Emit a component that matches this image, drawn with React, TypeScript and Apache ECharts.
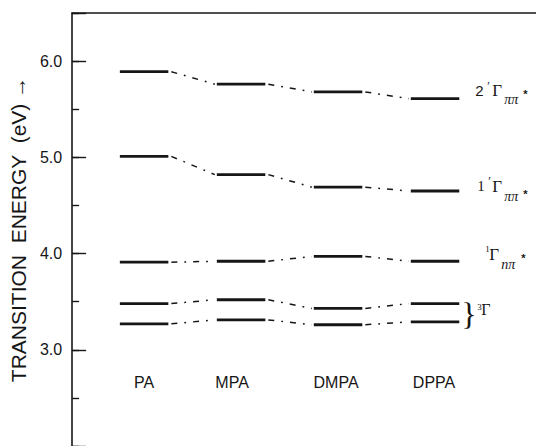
import React, { useEffect, useRef } from 'react';
import * as echarts from 'echarts';

// ---- data ----
const categories = ['PA', 'MPA', 'DMPA', 'DPPA'];
const level2PiPi = [5.89, 5.76, 5.68, 5.61];
const level1PiPi = [5.01, 4.82, 4.69, 4.65];
const level1NPi = [3.91, 3.92, 3.97, 3.92];
const tripletUpper = [3.48, 3.52, 3.43, 3.48];
const tripletLower = [3.27, 3.31, 3.26, 3.29];
const yTickLabels = ['3.0', '4.0', '5.0', '6.0'];

// ---- layout constants ----
const INK = '#161616';
const HW = 0.25; // half width of a level bar (x units)
const LABEL_Y = 2.665; // vertical position of compound names (value units)
const CAT_LABEL_DX = [0, -9, -2, -1];
const SANS = '"Liberation Sans", Arial, sans-serif';
const SERIF = '"Liberation Serif", "DejaVu Serif", serif';

type Piece = { t: string; dx: number; dy: number; font: string };

const label2 = (): Piece[] => [
  { t: '2', dx: 16, dy: -8, font: `15px ${SANS}` },
  { t: '\u2032', dx: 28, dy: -13, font: `12px ${SERIF}` },
  { t: '\u0393', dx: 33, dy: -8, font: `17px ${SERIF}` },
  { t: '\u03c0\u03c0', dx: 45, dy: 1, font: `italic 14px ${SERIF}` },
  { t: '*', dx: 64, dy: -5, font: `bold 11px ${SANS}` },
];
const label1 = (): Piece[] => [
  { t: '1', dx: 18, dy: -5, font: `15px ${SERIF}` },
  { t: '\u2032', dx: 29, dy: -10, font: `12px ${SERIF}` },
  { t: '\u0393', dx: 33, dy: -5, font: `17px ${SERIF}` },
  { t: '\u03c0\u03c0', dx: 45, dy: 5, font: `italic 14px ${SERIF}` },
  { t: '*', dx: 64, dy: 3, font: `bold 11px ${SANS}` },
];
const labelN = (): Piece[] => [
  { t: '1', dx: 26, dy: -12, font: `9px ${SERIF}` },
  { t: '\u0393', dx: 30, dy: -7, font: `17px ${SERIF}` },
  { t: 'n\u03c0', dx: 42, dy: 3, font: `italic 14px ${SERIF}` },
  { t: '*', dx: 62, dy: -3, font: `bold 11px ${SANS}` },
];

const textEl = (x: number, y: number, p: Piece) => ({
  type: 'text',
  x: x + p.dx,
  y: y + p.dy,
  style: {
    text: p.t,
    fill: INK,
    font: p.font,
    align: 'left',
    verticalAlign: 'middle',
    textAlign: 'left',
    textVerticalAlign: 'middle',
  },
});

const levelSeries = (name: string, vals: number[], pieces: Piece[] | null, brace?: boolean) => ({
  type: 'custom',
  name,
  coordinateSystem: 'cartesian2d',
  data: vals.map((v, i) => [i, v]),
  renderItem: (params: any, api: any) => {
    const i = api.value(0);
    const v = api.value(1);
    const p0 = api.coord([i - HW, v]);
    const p1 = api.coord([i + HW, v]);
    const children: any[] = [
      {
        type: 'line',
        shape: { x1: p0[0], y1: p0[1], x2: p1[0], y2: p1[1] },
        style: { stroke: INK, lineWidth: 2.8 },
      },
    ];
    if (i < vals.length - 1) {
      const q = api.coord([i + 1 - HW, vals[i + 1]]);
      children.push({
        type: 'line',
        shape: { x1: p1[0] + 3, y1: p1[1], x2: q[0] - 2, y2: q[1] },
        style: { stroke: INK, lineWidth: 1.5, lineDash: [6, 7, 1.8, 7] },
      });
    }
    if (i === vals.length - 1 && pieces) {
      pieces.forEach((p) => children.push(textEl(p1[0], p1[1], p)));
    }
    if (i === vals.length - 1 && brace) {
      const mid = api.coord([i + HW, (tripletUpper[i] + tripletLower[i]) / 2]);
      children.push(textEl(mid[0], mid[1], { t: '}', dx: 2, dy: 1, font: `32px ${SERIF}` }));
      children.push(textEl(mid[0], mid[1], { t: '3', dx: 18, dy: -6, font: `9px ${SERIF}` }));
      children.push(textEl(mid[0], mid[1], { t: '\u0393', dx: 22, dy: -3, font: `16px ${SERIF}` }));
    }
    return { type: 'group', children };
  },
  z: 5,
});

export default function App() {
  const ref = useRef<HTMLDivElement>(null);
  useEffect(() => {
    document.body.style.margin = '0';
    const chart = echarts.init(ref.current!, null, { renderer: 'svg' });
    const yLabel = (v: number) => {
      const s = v.toFixed(1);
      return Number.isInteger(v) && yTickLabels.includes(s) ? s : '';
    };
    chart.setOption({
      animation: false,
      backgroundColor: '#ffffff',
      grid: { left: 72, right: 0, top: 13, height: 436.5 },
      xAxis: {
        type: 'value',
        position: 'top',
        min: -0.742,
        max: 4.041,
        axisLine: { show: true, onZero: false, lineStyle: { color: INK, width: 1.6 } },
        axisTick: { show: false },
        axisLabel: { show: false },
        splitLine: { show: false },
      },
      yAxis: [
        {
          type: 'value',
          min: 2,
          max: 6.5,
          interval: 1,
          position: 'left',
          name: 'TRANSITION  ENERGY  (eV) \u2192',
          nameLocation: 'middle',
          nameRotate: 90,
          nameGap: 31,
          nameTextStyle: { color: INK, fontSize: 21, fontFamily: SANS },
          axisLine: { show: true, onZero: false, lineStyle: { color: INK, width: 1.6 } },
          axisTick: { show: true, inside: true, length: 14, lineStyle: { color: INK, width: 1.4 } },
          axisLabel: { formatter: yLabel, color: INK, fontSize: 16, fontFamily: SANS, margin: 10 },
          splitLine: { show: false },
        },
        {
          type: 'value',
          min: 2,
          max: 6.5,
          interval: 0.5,
          position: 'left',
          offset: 0,
          axisLine: { show: false, onZero: false },
          axisTick: { show: true, inside: true, length: 7, lineStyle: { color: INK, width: 1.4 } },
          axisLabel: { show: false },
          splitLine: { show: false },
        },
      ],
      series: [
        levelSeries('2ππ*', level2PiPi, label2()),
        levelSeries('1ππ*', level1PiPi, label1()),
        levelSeries('1nπ*', level1NPi, labelN()),
        levelSeries('3Γ upper', tripletUpper, null),
        levelSeries('3Γ lower', tripletLower, null, true),
        {
          type: 'custom',
          name: 'compounds',
          coordinateSystem: 'cartesian2d',
          data: categories.map((c, i) => [i, LABEL_Y]),
          renderItem: (params: any, api: any) => {
            const i = api.value(0);
            const p = api.coord([i, api.value(1)]);
            return {
              type: 'text',
              x: p[0] + CAT_LABEL_DX[i],
              y: p[1],
              style: {
                text: categories[i],
                fill: INK,
                font: `16px ${SANS}`,
                align: 'center',
                verticalAlign: 'middle',
                textAlign: 'center',
                textVerticalAlign: 'middle',
              },
            };
          },
        },
      ],
    });
    return () => chart.dispose();
  }, []);
  return <div ref={ref} style={{ width: 536, height: 446 }} />;
}
